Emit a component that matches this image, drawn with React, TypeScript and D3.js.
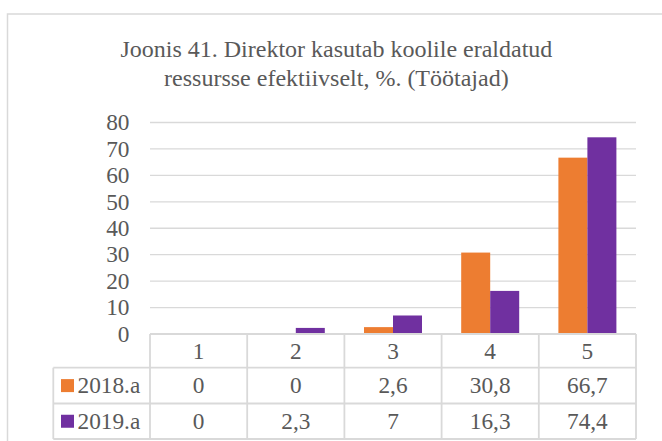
import React from "react";
import * as d3 from "d3";

const categories = ["1", "2", "3", "4", "5"];
const seriesNames = ["2018.a", "2019.a"];
const values2018 = [0, 0, 2.6, 30.8, 66.7];
const values2019 = [0, 2.3, 7, 16.3, 74.4];
const yTicks = [0, 10, 20, 30, 40, 50, 60, 70, 80];
const colors = ["#ED7D31", "#7030A0"];

const font = '"Liberation Serif", "Times New Roman", Times, serif';
const textColor = "#595959";
const lineColor = "#D9D9D9";
const fs = 23.3;

function App() {
  const width = 662;
  const height = 441;

  // plot area
  const left = 150;
  const right = 636;
  const top = 122.5;
  const bottom = 334;

  const x = d3.scaleBand().domain(categories).range([left, right]);
  const y = d3.scaleLinear().domain([0, 80]).range([bottom, top]);
  const barW = 29;
  const inner = d3
    .scaleBand()
    .domain(seriesNames)
    .range([-barW, barW]);

  const series = [values2018, values2019];
  const fmt = (v: number) => String(v).replace(".", ",");

  // data table rows
  const rowTops = [334, 367.7, 403.5, 439];
  const legendLeft = 53.3;

  return (
    <svg
      width={width}
      height={height}
      style={{ position: "absolute", left: 0, top: 0, fontFamily: font }}
    >
      <rect x={0} y={0} width={width} height={height} fill="#fff" />
      <rect
        x={7.5}
        y={14}
        width={700}
        height={500}
        fill="none"
        stroke={lineColor}
        strokeWidth={1.5}
      />

      <text textAnchor="middle" fill={textColor} fontSize={24}>
        <tspan x={336.4} y={56.7}>
          Joonis 41. Direktor kasutab koolile eraldatud
        </tspan>
        <tspan x={336.4} y={86}>
          ressursse efektiivselt, %. (Töötajad)
        </tspan>
      </text>

      {/* gridlines + y labels */}
      {yTicks.map((t) => (
        <g key={t}>
          {t > 0 && (
            <line
              x1={left}
              x2={right}
              y1={y(t)}
              y2={y(t)}
              stroke={lineColor}
              strokeWidth={1.3}
            />
          )}
          <text
            x={129.5}
            y={y(t)}
            dy="0.33em"
            textAnchor="end"
            fill={textColor}
            fontSize={fs}
          >
            {t}
          </text>
        </g>
      ))}

      {/* bars */}
      {series.map((vals, si) =>
        vals.map((v, i) => {
          const cx = (x(categories[i]) as number) + x.bandwidth() / 2;
          const bx = cx + (inner(seriesNames[si]) as number);
          return (
            <rect
              key={si + "-" + i}
              x={bx}
              y={y(v)}
              width={inner.bandwidth()}
              height={bottom - y(v)}
              fill={colors[si]}
            />
          );
        })
      )}

      {/* data table */}
      <g stroke={lineColor} strokeWidth={1.8} fill="none">
        <line x1={left} x2={right} y1={rowTops[0]} y2={rowTops[0]} />
        {rowTops.slice(1).map((ry, k) => (
          <line key={k} x1={legendLeft} x2={right} y1={ry} y2={ry} />
        ))}
        {categories.map((c) => (
          <line
            key={c}
            x1={x(c) as number}
            x2={x(c) as number}
            y1={rowTops[0]}
            y2={rowTops[3]}
          />
        ))}
        <line x1={right} x2={right} y1={rowTops[0]} y2={rowTops[3]} />
        <line
          x1={legendLeft}
          x2={legendLeft}
          y1={rowTops[1]}
          y2={rowTops[3]}
        />
      </g>

      {categories.map((c) => (
        <text
          key={c}
          x={(x(c) as number) + x.bandwidth() / 2}
          y={(rowTops[0] + rowTops[1]) / 2}
          dy="0.33em"
          textAnchor="middle"
          fill={textColor}
          fontSize={fs}
        >
          {c}
        </text>
      ))}

      {series.map((vals, si) => {
        const cy = (rowTops[si + 1] + rowTops[si + 2]) / 2;
        return (
          <g key={si}>
            <rect x={61} y={cy - 6.5} width={13} height={13} fill={colors[si]} />
            <text
              x={77.5}
              y={cy}
              dy="0.33em"
              fill={textColor}
              fontSize={fs}
            >
              {seriesNames[si]}
            </text>
            {vals.map((v, i) => (
              <text
                key={i}
                x={(x(categories[i]) as number) + x.bandwidth() / 2}
                y={cy}
                dy="0.33em"
                textAnchor="middle"
                fill={textColor}
                fontSize={fs}
              >
                {fmt(v)}
              </text>
            ))}
          </g>
        );
      })}
    </svg>
  );
}

export default App;
